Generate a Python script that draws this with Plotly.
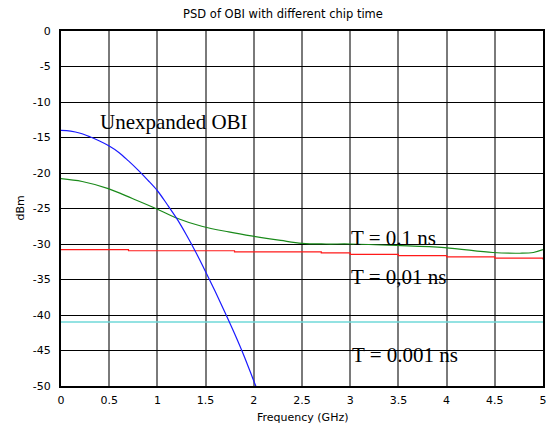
import plotly.graph_objects as go

# ---- data ----
blue_f = [0, 0.1, 0.2, 0.3, 0.4, 0.5, 0.6, 0.7, 0.8, 0.9, 1.0, 1.1, 1.2, 1.3, 1.4, 1.5, 1.6, 1.7, 1.8, 1.9, 2.0, 2.05]
blue_db = [-14.0, -14.1, -14.4, -14.9, -15.5, -16.2, -17.1, -18.3, -19.6, -21.0, -22.5, -24.4, -26.4, -28.7, -31.2, -33.9, -36.7, -39.6, -42.6, -45.8, -49.3, -51.0]

green_f = [0, 0.22, 0.49, 0.74, 1.0, 1.19, 1.46, 1.74, 1.99, 2.28, 2.5, 2.75, 3.0, 3.48, 3.98, 4.48, 4.76, 4.9, 5.0]
green_db = [-20.8, -21.2, -22.2, -23.6, -25.1, -26.3, -27.5, -28.3, -28.9, -29.5, -29.9, -30.0, -30.0, -30.2, -30.5, -31.2, -31.3, -31.2, -30.8]

red_f = [0, 0.7, 1.8, 2.7, 3.0, 3.5, 4.0, 4.5, 5.0]
red_db = [-30.8, -30.95, -31.1, -31.25, -31.45, -31.65, -31.8, -32.0, -32.2]

cyan_f = [0, 5]
cyan_db = [-41.0, -41.0]

x_ticks = [0, 0.5, 1, 1.5, 2, 2.5, 3, 3.5, 4, 4.5, 5]
x_tick_labels = ["0", "0.5", "1", "1.5", "2", "2.5", "3", "3.5", "4", "4.5", "5"]
y_ticks = [0, -5, -10, -15, -20, -25, -30, -35, -40, -45, -50]
y_tick_labels = ["0", "-5", "-10", "-15", "-20", "-25", "-30", "-35", "-40", "-45", "-50"]

labels = ["Unexpanded OBI", "T = 0.1 ns", "T = 0,01 ns", "T = 0.001 ns"]
label_x = [0.38, 2.99, 2.99, 3.0]
label_y = [-12.8, -29.2, -34.6, -45.7]

# page has an 8px body margin, so the figure is sized to fit the 555x425 window
W, H, OFF = 547, 417, 8

fig = go.Figure()
fig.add_trace(go.Scatter(x=cyan_f, y=cyan_db, mode="lines", line=dict(color="#6fd8d8", width=1.5)))
fig.add_trace(go.Scatter(x=red_f, y=red_db, mode="lines", line=dict(color="#ff1a1a", width=1.2, shape="hv")))
fig.add_trace(go.Scatter(x=green_f, y=green_db, mode="lines", line=dict(color="#1a8a1a", width=1.2, shape="spline")))
fig.add_trace(go.Scatter(x=blue_f, y=blue_db, mode="lines", line=dict(color="#1a1aff", width=1.2, shape="spline")))

for t, x, y in zip(labels, label_x, label_y):
    fig.add_annotation(x=x, y=y, text=t, showarrow=False, xanchor="left", yanchor="middle",
                       font=dict(family="Liberation Serif, Times New Roman, serif", size=21, color="black"))

tick_font = dict(family="DejaVu Sans, Arial, sans-serif", size=11, color="black")

# axis titles as annotations so the plot area stays fixed
fig.add_annotation(text="Frequency (GHz)", xref="paper", yref="paper", x=0.5, y=0, xanchor="center",
                   yanchor="middle", yshift=-31, showarrow=False, font=tick_font)
fig.add_annotation(text="dBm", xref="paper", yref="paper", x=0, y=0.5, xanchor="center",
                   yanchor="middle", xshift=-41, textangle=-90, showarrow=False, font=tick_font)

fig.update_layout(
    width=W, height=H,
    margin=dict(l=61 - OFF, r=12, t=31 - OFF, b=39),
    paper_bgcolor="white", plot_bgcolor="white",
    showlegend=False,
    title=dict(text="PSD of OBI with different chip time", x=(283 - OFF) / W, xref="container", xanchor="center",
               y=1 - (14 - OFF) / H, yref="container", yanchor="middle",
               font=dict(family="DejaVu Sans, Arial, sans-serif", size=11.5, color="black")),
    xaxis=dict(range=[0, 5], tickvals=x_ticks, ticktext=x_tick_labels, showgrid=True, gridcolor="#7a7a7a", gridwidth=1.5,
               zeroline=False, showline=True, linecolor="black", linewidth=2, mirror=True, ticks="",
               ticklabelstandoff=3, tickfont=tick_font, automargin=False),
    yaxis=dict(range=[-50, 0], tickvals=y_ticks, ticktext=y_tick_labels, showgrid=True, gridcolor="black", gridwidth=1,
               zeroline=False, showline=True, linecolor="black", linewidth=2, mirror=True, ticks="",
               ticklabelstandoff=6, tickfont=tick_font, automargin=False),
)
fig.write_html("out.html")
